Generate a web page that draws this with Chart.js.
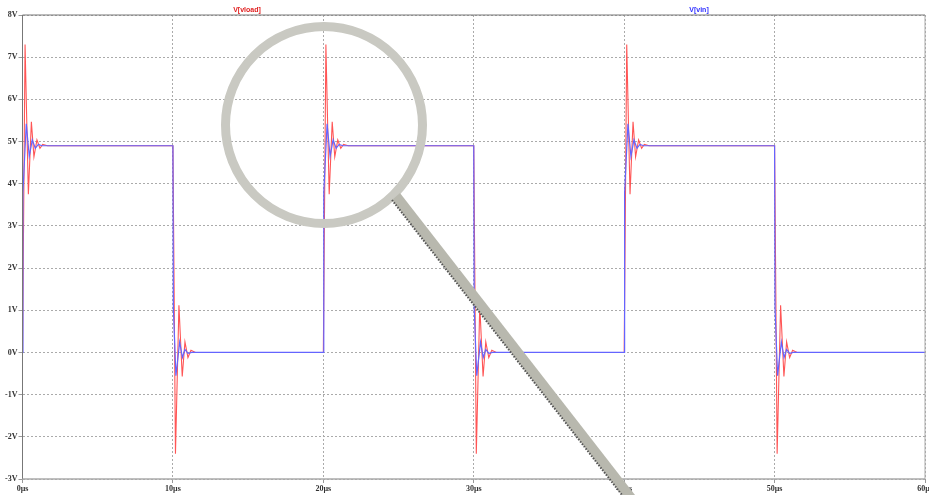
<!DOCTYPE html>
<html>
<head>
<meta charset="utf-8">
<title>V[vload] and V[vin]</title>
<script src="https://cdn.jsdelivr.net/npm/chart.js@4/dist/chart.umd.js"></script>
<style>
  html, body { margin: 0; padding: 0; background: #fff; }
  canvas { display: block; }
</style>
</head>
<body>
<canvas id="chart" width="929" height="495"></canvas>
<script>
// times in microseconds, values in volts
const riseEdges = [0, 20, 40];
const fallEdges = [10, 30, 50];
const endTime = 60;

const loadRiseTimes = [0, 0.17, 0.39, 0.59, 0.76, 0.96, 1.16, 1.34, 1.66];
const loadRiseValues = [0, 7.3, 3.75, 5.47, 4.64, 5.04, 4.84, 4.93, 4.9];
const loadFallTimes = [0, 0.17, 0.4, 0.62, 0.8, 1.0, 1.2, 1.5];
const loadFallValues = [4.9, -2.4, 1.12, -0.57, 0.25, -0.12, 0.05, 0];

const vinRiseTimes = [0, 0.03, 0.25, 0.45, 0.65, 0.85, 1.05, 1.3];
const vinRiseValues = [0, 3.8, 5.42, 4.65, 5.04, 4.84, 4.93, 4.9];
const vinFallTimes = [0, 0.03, 0.2, 0.45, 0.63, 0.8, 1.0, 1.25];
const vinFallValues = [4.9, 1.05, -0.55, 0.25, -0.12, 0.07, -0.02, 0];

const yTicksMin = -3;
const yTicksMax = 8;

function buildSeries(riseTimes, riseValues, fallTimes, fallValues) {
  const points = [];
  riseEdges.forEach(function (edge, i) {
    riseTimes.forEach(function (t, j) {
      points.push({ x: edge + t, y: riseValues[j] });
    });
    fallTimes.forEach(function (t, j) {
      points.push({ x: fallEdges[i] + t, y: fallValues[j] });
    });
  });
  points.push({ x: endTime, y: 0 });
  return points;
}

// trace names on top, magnifying glass drawn over everything
const overlay = {
  id: 'overlay',
  afterDraw(chart) {
    const ctx = chart.ctx;
    const a = chart.chartArea;
    ctx.save();

    ctx.strokeStyle = '#777';
    ctx.lineWidth = 1;
    ctx.beginPath();
    ctx.moveTo(a.left, a.bottom);
    ctx.lineTo(a.left, a.top);
    ctx.lineTo(a.right, a.top);
    ctx.stroke();
    ctx.strokeStyle = '#aaa';
    ctx.beginPath();
    ctx.moveTo(a.right, a.top);
    ctx.lineTo(a.right, a.bottom);
    ctx.stroke();
    ctx.lineWidth = 1.5;
    ctx.beginPath();
    ctx.moveTo(a.left, a.bottom);
    ctx.lineTo(a.right, a.bottom);
    ctx.stroke();

    ctx.font = 'bold 7px "Liberation Sans"';
    ctx.textAlign = 'center';
    ctx.textBaseline = 'middle';
    ctx.fillStyle = '#e02020';
    ctx.fillText(chart.data.datasets[0].label, 247, 10);
    ctx.fillStyle = '#3030ff';
    ctx.fillText(chart.data.datasets[1].label, 699, 10);

    ctx.strokeStyle = '#c9c9c2';
    ctx.lineWidth = 9;
    ctx.beginPath();
    ctx.arc(324, 125, 98.5, 0, Math.PI * 2);
    ctx.stroke();

    ctx.fillStyle = '#b8b8ae';
    ctx.beginPath();
    ctx.moveTo(400, 193);
    ctx.lineTo(635, 495);
    ctx.lineTo(622, 495);
    ctx.lineTo(392, 200);
    ctx.closePath();
    ctx.fill();

    ctx.strokeStyle = '#555';
    ctx.lineWidth = 2;
    ctx.setLineDash([1.5, 1.5]);
    ctx.beginPath();
    ctx.moveTo(392, 200);
    ctx.lineTo(622, 495);
    ctx.stroke();
    ctx.restore();
  }
};

function flatAxis(scale) {
  scale.paddingLeft = 0;
  scale.paddingRight = 0;
  scale.height = 16;
}

new Chart(document.getElementById('chart'), {
  type: 'line',
  data: {
    datasets: [
      {
        label: 'V[vload]',
        data: buildSeries(loadRiseTimes, loadRiseValues, loadFallTimes, loadFallValues),
        borderColor: 'rgb(255, 85, 85)',
        borderWidth: 1.1,
        pointRadius: 0,
        tension: 0,
        order: 2
      },
      {
        label: 'V[vin]',
        data: buildSeries(vinRiseTimes, vinRiseValues, vinFallTimes, vinFallValues),
        borderColor: 'rgb(100, 100, 255)',
        borderWidth: 1.2,
        pointRadius: 0,
        tension: 0,
        order: 1
      }
    ]
  },
  options: {
    responsive: false,
    animation: false,
    layout: { padding: { top: 15, right: 4, bottom: 0, left: 0 } },
    plugins: { legend: { display: false }, tooltip: { enabled: false } },
    scales: {
      x: {
        type: 'linear',
        min: 0,
        max: endTime,
        afterFit: flatAxis,
        border: { display: false, dash: [2, 2] },
        grid: { color: '#aaa', tickColor: '#999', tickLength: 4, tickBorderDash: [], lineWidth: 1 },
        ticks: {
          stepSize: 10,
          maxRotation: 0,
          padding: 1,
          color: '#333',
          font: { family: '"Liberation Serif"', size: 8, weight: 'bold' },
          callback: function (v) { return v + 'µs'; }
        }
      },
      y: {
        min: yTicksMin,
        max: yTicksMax,
        afterFit(scale) { scale.width = 22.5; },
        border: { display: false, dash: [2, 2] },
        grid: { color: '#aaa', tickColor: '#999', tickLength: 4, tickBorderDash: [], lineWidth: 1 },
        ticks: {
          stepSize: 1,
          autoSkip: false,
          padding: 1,
          color: '#333',
          font: { family: '"Liberation Serif"', size: 8, weight: 'bold' },
          callback: function (v) { return v + 'V'; }
        }
      }
    }
  },
  plugins: [overlay]
});
</script>
</body>
</html>
